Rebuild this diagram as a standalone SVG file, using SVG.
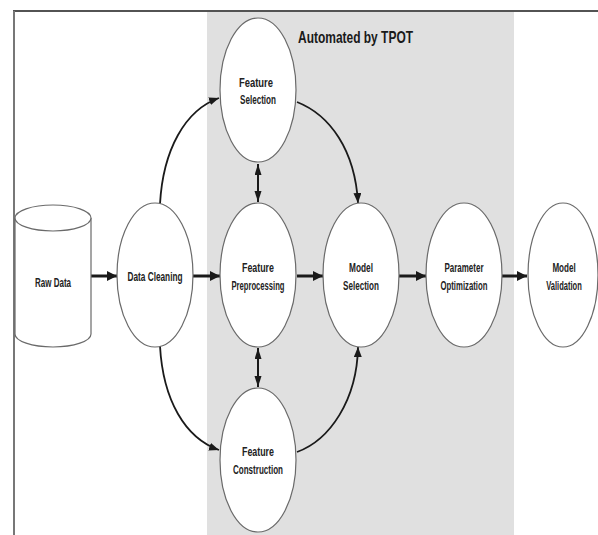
<svg xmlns="http://www.w3.org/2000/svg" width="598" height="535" viewBox="0 0 598 535">
<style>
.node{fill:#ffffff;stroke:#6a6a6a;stroke-width:1.2}
.lbl{font-family:"Liberation Sans",Arial,sans-serif;font-weight:bold;font-size:13px;fill:#222222;text-anchor:middle}
.title{font-family:"Liberation Sans",Arial,sans-serif;font-weight:bold;font-size:17px;fill:#1a1a1a}
.thick{fill:none;stroke:#1a1a1a;stroke-width:3}
.curve{fill:none;stroke:#1a1a1a;stroke-width:1.8}
</style>
<defs>
<marker id="ah" markerUnits="userSpaceOnUse" markerWidth="12" markerHeight="12" refX="10" refY="5" orient="auto">
<path d="M0,0 L10,5 L0,10 Z" fill="#1a1a1a"/>
</marker>
<marker id="ahs" markerUnits="userSpaceOnUse" markerWidth="12" markerHeight="10" refX="10" refY="4" orient="auto">
<path d="M0,0 L10,4 L0,8 Z" fill="#1a1a1a"/>
</marker>
<marker id="ahd" markerUnits="userSpaceOnUse" markerWidth="12" markerHeight="10" refX="11" refY="3.5" orient="auto-start-reverse">
<path d="M0,0 L11,3.5 L0,7 Z" fill="#1a1a1a"/>
</marker>
</defs>
<rect x="0" y="0" width="598" height="535" fill="#ffffff"/>
<rect id="automated-region" x="207" y="12" width="307" height="523" fill="#e0e0e0"/>
<line x1="13" y1="11" x2="598" y2="11" stroke="#1a1a1a" stroke-width="1.6"/>
<line x1="14" y1="11" x2="14" y2="535" stroke="#777777" stroke-width="2"/>
<text class="title" x="298" y="43" textLength="115" lengthAdjust="spacingAndGlyphs">Automated by TPOT</text>

<g id="connectors">
<line class="thick" x1="91" y1="276" x2="117" y2="276" marker-end="url(#ah)"/>
<line class="thick" x1="193" y1="276" x2="220" y2="276" marker-end="url(#ah)"/>
<line class="thick" x1="297" y1="276" x2="323" y2="276" marker-end="url(#ah)"/>
<line class="thick" x1="399" y1="276" x2="426" y2="276" marker-end="url(#ah)"/>
<line class="thick" x1="502" y1="276" x2="527" y2="276" marker-end="url(#ah)"/>
<path class="curve" d="M160 204 C 163 150, 185 110, 219 98" marker-end="url(#ahs)"/>
<path class="curve" d="M160 346 C 163 400, 185 438, 219 450" marker-end="url(#ahs)"/>
<path class="curve" d="M297 102 C 330 115, 355 150, 358 203" marker-end="url(#ahs)"/>
<path class="curve" d="M297 452 C 330 440, 357 400, 358 347" marker-end="url(#ahs)"/>
<line x1="258" y1="164" x2="258" y2="202" stroke="#1a1a1a" stroke-width="2" marker-start="url(#ahd)" marker-end="url(#ahd)"/>
<line x1="258" y1="348" x2="258" y2="387" stroke="#1a1a1a" stroke-width="2" marker-start="url(#ahd)" marker-end="url(#ahd)"/>
</g>

<g id="raw-data">
<path class="node" d="M15 218 V334 A38 13 0 0 0 91 334 V218"/>
<ellipse class="node" cx="53" cy="218" rx="38" ry="13"/>
<text class="lbl" x="53" y="287" textLength="36" lengthAdjust="spacingAndGlyphs">Raw Data</text>
</g>
<g id="data-cleaning">
<ellipse class="node" cx="155" cy="275" rx="38" ry="72"/>
<text class="lbl" x="155" y="281" textLength="55" lengthAdjust="spacingAndGlyphs">Data Cleaning</text>
</g>
<g id="feature-selection">
<ellipse class="node" cx="258" cy="90" rx="38" ry="72"/>
<text class="lbl" x="256" y="87" textLength="34" lengthAdjust="spacingAndGlyphs">Feature</text>
<text class="lbl" x="258" y="104" textLength="36" lengthAdjust="spacingAndGlyphs">Selection</text>
</g>
<g id="feature-preprocessing">
<ellipse class="node" cx="258" cy="275" rx="38" ry="72"/>
<text class="lbl" x="258" y="272" textLength="32" lengthAdjust="spacingAndGlyphs">Feature</text>
<text class="lbl" x="258" y="290" textLength="53" lengthAdjust="spacingAndGlyphs">Preprocessing</text>
</g>
<g id="feature-construction">
<ellipse class="node" cx="258" cy="460" rx="38" ry="72"/>
<text class="lbl" x="258" y="456" textLength="32" lengthAdjust="spacingAndGlyphs">Feature</text>
<text class="lbl" x="258" y="474" textLength="50" lengthAdjust="spacingAndGlyphs">Construction</text>
</g>
<g id="model-selection">
<ellipse class="node" cx="361" cy="275" rx="38" ry="72"/>
<text class="lbl" x="361" y="272" textLength="24" lengthAdjust="spacingAndGlyphs">Model</text>
<text class="lbl" x="361" y="290" textLength="36" lengthAdjust="spacingAndGlyphs">Selection</text>
</g>
<g id="parameter-optimization">
<ellipse class="node" cx="464" cy="275" rx="38" ry="72"/>
<text class="lbl" x="464" y="272" textLength="39" lengthAdjust="spacingAndGlyphs">Parameter</text>
<text class="lbl" x="464" y="290" textLength="47" lengthAdjust="spacingAndGlyphs">Optimization</text>
</g>
<g id="model-validation">
<ellipse class="node" cx="563" cy="275" rx="35" ry="72"/>
<text class="lbl" transform="translate(564 272) scale(0.62 1)" x="0" y="0">Model</text>
<text class="lbl" transform="translate(564 290) scale(0.58 1)" x="0" y="0">Validation</text>
</g>
</svg>
